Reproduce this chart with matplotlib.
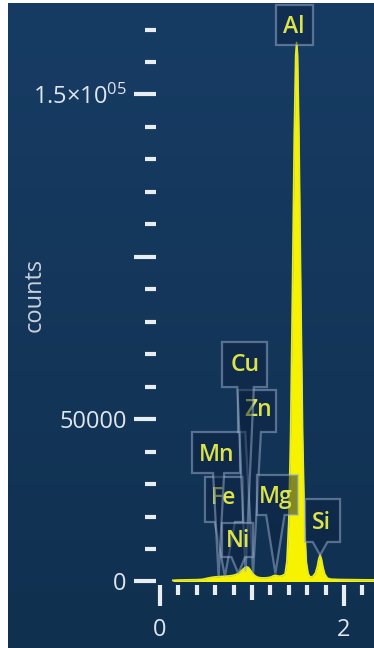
import numpy as np
import matplotlib
matplotlib.use("Agg")
import matplotlib.pyplot as plt
from matplotlib.patches import Polygon
from matplotlib.colors import LinearSegmentedColormap
from matplotlib.ticker import FixedLocator

plt.rcParams["font.family"] = ["Open Sans", "DejaVu Sans"]
plt.rcParams["mathtext.fontset"] = "custom"
plt.rcParams["mathtext.rm"] = "Open Sans"

# ---- EDS spectrum (energy in keV, counts) ----
energy_kev = [0.14, 0.20, 0.30, 0.40, 0.46, 0.50, 0.55, 0.60, 0.65, 0.70,
              0.75, 0.80, 0.84, 0.87, 0.90, 0.92, 0.94, 0.96, 0.98, 1.00,
              1.03, 1.06, 1.10, 1.15, 1.20, 1.23, 1.25, 1.27, 1.30, 1.33,
              1.36, 1.38, 1.40, 1.42, 1.44, 1.46, 1.475, 1.485, 1.495, 1.51,
              1.53, 1.55, 1.57, 1.59, 1.61, 1.63, 1.66, 1.69, 1.71, 1.725,
              1.74, 1.755, 1.77, 1.79, 1.82, 1.86, 1.95, 2.10, 2.25, 2.35]
counts = [350, 450, 500, 550, 650, 900, 1200, 1400, 1500, 1600,
          1700, 1900, 2300, 2900, 3700, 4200, 4500, 4300, 3600, 2700,
          1800, 1300, 1100, 1100, 1300, 1700, 1900, 1800, 1600, 1800,
          2300, 6300, 18400, 45300, 89000, 137500, 162000, 166000, 162000, 137000,
          89000, 45000, 18000, 6000, 2400, 1400, 1500, 2600, 4500, 6800,
          8200, 6800, 4500, 2300, 1000, 700, 600, 550, 500, 500]

# ---- element labels (drawn back to front) ----
elements = ["Fe", "Mn", "Zn", "Cu", "Ni", "Mg", "Si", "Al"]
line_kev = [0.705, 0.637, 1.012, 0.930, 0.851, 1.254, 1.740, 1.486]

# callout layout: box (left, right, bottom, top), tail half-width, tip counts, text anchor
callouts = {
    "Ni": dict(box=(0.674, 1.011, 7550, 18020), tail=0.075, tip=2500, txt=(0.848, 12470)),
    "Fe": dict(box=(0.489, 0.902, 18330, 32190), tail=0.11, tip=1600, txt=(0.690, 25720)),
    "Mn": dict(box=(0.348, 0.870, 33420, 46050), tail=0.06, tip=1500, txt=(0.620, 38960)),
    "Zn": dict(box=(0.848, 1.261, 46050, 58980), tail=0.085, tip=2500, txt=(1.065, 52820)),
    "Cu": dict(box=(0.674, 1.163, 59900, 73770), tail=0.09, tip=2900, txt=(0.924, 66680)),
    "Mg": dict(box=(1.054, 1.500, 20480, 32810), tail=0.10, tip=2500, txt=(1.261, 26030)),
    "Si": dict(box=(1.576, 1.957, 12170, 25410), tail=0.08, tip=8160, txt=(1.750, 18020)),
    "Al": dict(box=(1.261, 1.663, 165250, 177560), tail=None, tip=None, txt=(1.457, 170700)),
}

# ---- axis ticks ----
x_major = [0, 1, 2]
x_major_labels = ["0", "", "2"]
x_minor = [0.2, 0.4, 0.6, 0.8, 1.2, 1.4, 1.6, 1.8, 2.2]
y_major = [0, 50000, 100000, 150000]
y_major_labels = ["0", "50000", "", r"$\mathregular{1.5{\times}10^{05}}$"]
y_minor = [10000, 20000, 30000, 40000, 60000, 70000, 80000, 90000,
           110000, 120000, 130000, 140000, 160000, 170000]

W, H = 374, 648
fig = plt.figure(figsize=(W / 100, H / 100), dpi=100, facecolor="white")

# dark panel with a slight vertical gradient
bg = fig.add_axes([8 / W, 0, 1 - 8 / W, 645 / H])
grad = np.linspace(0, 1, 256).reshape(-1, 1)
panel_cmap = LinearSegmentedColormap.from_list("panel", ["#10304f", "#173c64"])
bg.imshow(grad, aspect="auto", cmap=panel_cmap, origin="lower", extent=[0, 1, 0, 1])
bg.axis("off")

ax = fig.add_axes([156 / W, 1 - 585 / H, 1 - 156 / W, 585 / H])
ax.set_facecolor("none")
ax.set_xlim(-0.0435, 2.326)
ax.set_ylim(-1078, 179100)
for s in ax.spines.values():
    s.set_visible(False)

# spectrum
ax.fill_between(energy_kev, counts, 0, color="#f6f200", lw=0, zorder=2)
ax.plot(energy_kev, counts, color="#e6ea2a", lw=1.3, zorder=2)

# callouts
face = (0.05, 0.13, 0.25, 0.5)
edge = (0.62, 0.70, 0.82, 0.5)
z = 3
for name, e in zip(elements, line_kev):
    c = callouts[name]
    l, r, b, t = c["box"]
    if c["tail"] is not None:
        cx = e
        verts = [(l, t), (r, t), (r, b), (min(cx + c["tail"], r), b), (cx, c["tip"]),
                 (max(cx - c["tail"], l), b), (l, b)]
    else:
        verts = [(l, t), (r, t), (r, b), (l, b)]
    ax.add_patch(Polygon(verts, closed=True, facecolor=face, edgecolor=edge,
                         lw=1.6, zorder=z))
    ax.text(c["txt"][0], c["txt"][1], name, ha="center", va="center",
            fontsize=16.5, fontweight="semibold", color="#dce44a", zorder=z + 1)
    z += 2

# ticks
tick_col = "#e8edf2"
lab_col = "#e0e6ee"
ax.xaxis.set_major_locator(FixedLocator(x_major))
ax.xaxis.set_minor_locator(FixedLocator(x_minor))
ax.set_xticklabels(x_major_labels)
ax.yaxis.set_major_locator(FixedLocator(y_major))
ax.yaxis.set_minor_locator(FixedLocator(y_minor))
ax.set_yticklabels(y_major_labels)

ax.tick_params(axis="x", which="major", direction="out", length=15, width=3,
               color=tick_col, pad=9, labelsize=17, labelcolor=lab_col)
ax.tick_params(axis="x", which="minor", direction="out", length=7.2, width=3,
               color=tick_col)
ax.tick_params(axis="y", which="major", direction="out", length=16, width=3,
               color=tick_col, pad=5, labelsize=17, labelcolor=lab_col)
ax.tick_params(axis="y", which="minor", direction="out", length=8, width=3,
               color=tick_col)
ax.xaxis.get_major_ticks()[1].tick1line.set_markersize(10.8)

fig.text(35 / W, 1 - 295 / H, "counts", rotation=90, ha="center", va="center",
         fontsize=17, color="#c9d1dc")

fig.savefig("out.png", dpi=100, facecolor="white")
